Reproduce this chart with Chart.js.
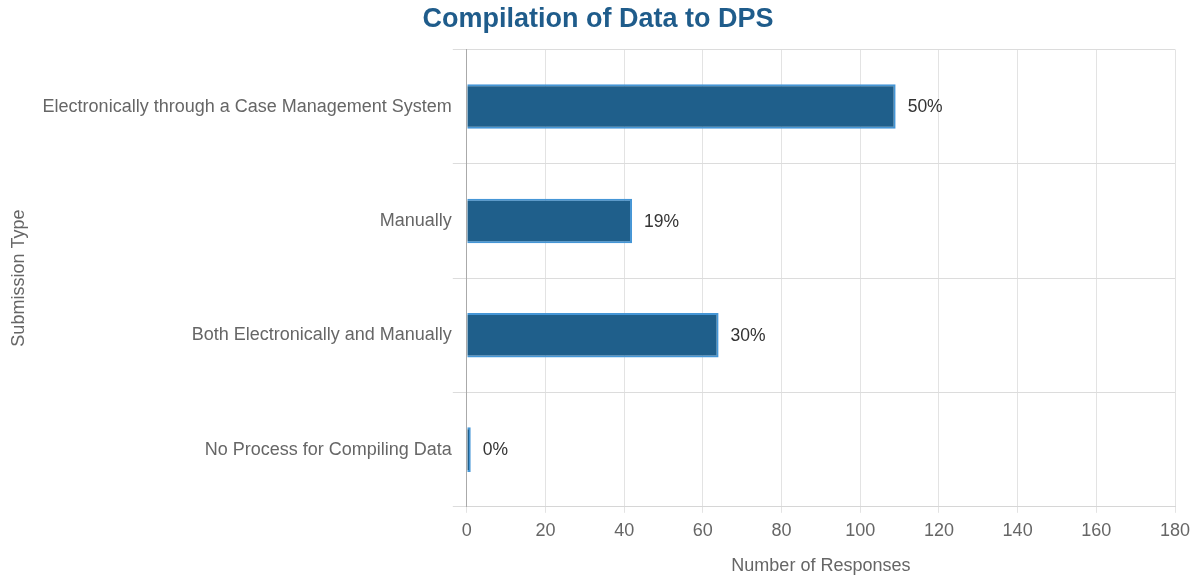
<!DOCTYPE html>
<html>
<head>
<meta charset="utf-8">
<script src="https://cdn.jsdelivr.net/npm/chart.js@4.4.0/dist/chart.umd.min.js"></script>
<style>
  html, body { margin: 0; padding: 0; background: #fff; }
  #wrap { width: 1193px; height: 577px; }
</style>
</head>
<body>
<div id="wrap"><canvas id="dps-chart"></canvas></div>
<script>
// data

const categories = [
    "Electronically through a Case Management System",
    "Manually",
    "Both Electronically and Manually",
    "No Process for Compiling Data"
];
const responses = [109, 42, 64, 1];
const percentLabels = ["50%", "19%", "30%", "0%"];
const xTicks = [0, 20, 40, 60, 80, 100, 120, 140, 160, 180];

const fontFamily = '"Liberation Sans", Arial, sans-serif';

// value labels at the end of each bar
const barLabels = {
    id: 'barLabels',
    afterDatasetsDraw(chart) {
        const ctx = chart.ctx;
        const meta = chart.getDatasetMeta(0);
        ctx.save();
        ctx.font = '17.5px ' + fontFamily;
        ctx.fillStyle = '#333';
        ctx.textBaseline = 'middle';
        ctx.textAlign = 'left';
        meta.data.forEach((bar, i) => {
            ctx.fillText(percentLabels[i], bar.x + 12, bar.y + 1);
        });
        ctx.restore();
    }
};

const dpsCanvas = document.getElementById("dps-chart");

let dpsChart = new Chart(dpsCanvas, {
    type: 'bar',
    data: {
        labels: categories,
        datasets: [{
            data: responses,
            backgroundColor: '#1f5f8b',
            borderColor: '#4596d6',
            borderWidth: 2,
            barPercentage: 0.39,
            categoryPercentage: 1
        }]
    },
    options: {
        indexAxis: 'y',
        responsive: true,
        maintainAspectRatio: false,
        animation: { duration: 0 },
        layout: {
            padding: { left: 8, right: 5, top: 0, bottom: 0 }
        },
        scales: {
            x: {
                min: 0,
                max: 180,
                afterBuildTicks: axis => {
                    axis.ticks = xTicks.map(v => ({ value: v }));
                },
                afterFit: axis => {
                    axis.paddingRight = 18;
                },
                grid: { color: '#e3e3e3', tickLength: 6 },
                border: { color: '#d6d6d6' },
                ticks: {
                    color: '#666',
                    padding: 7,
                    font: { family: fontFamily, size: 18 }
                },
                title: {
                    display: true,
                    text: 'Number of Responses',
                    color: '#666',
                    padding: { top: 7, bottom: 0 },
                    font: { family: fontFamily, size: 18 }
                }
            },
            y: {
                grid: { color: '#dcdcdc', tickLength: 14, offset: true },
                border: { color: '#aaa' },
                ticks: {
                    color: '#666',
                    padding: 1,
                    font: { family: fontFamily, size: 18 }
                },
                title: {
                    display: true,
                    text: 'Submission Type',
                    color: '#666',
                    padding: { top: 0, bottom: 12 },
                    font: { family: fontFamily, size: 18 }
                }
            }
        },
        plugins: {
            legend: { display: false },
            tooltip: { enabled: false },
            title: {
                display: true,
                text: 'Compilation of Data to DPS',
                color: '#1f5c8b',
                padding: { top: 3, bottom: 14 },
                font: { family: fontFamily, size: 27, weight: 'bold' }
            }
        }
    },
    plugins: [barLabels]
});
</script>
</body>
</html>
